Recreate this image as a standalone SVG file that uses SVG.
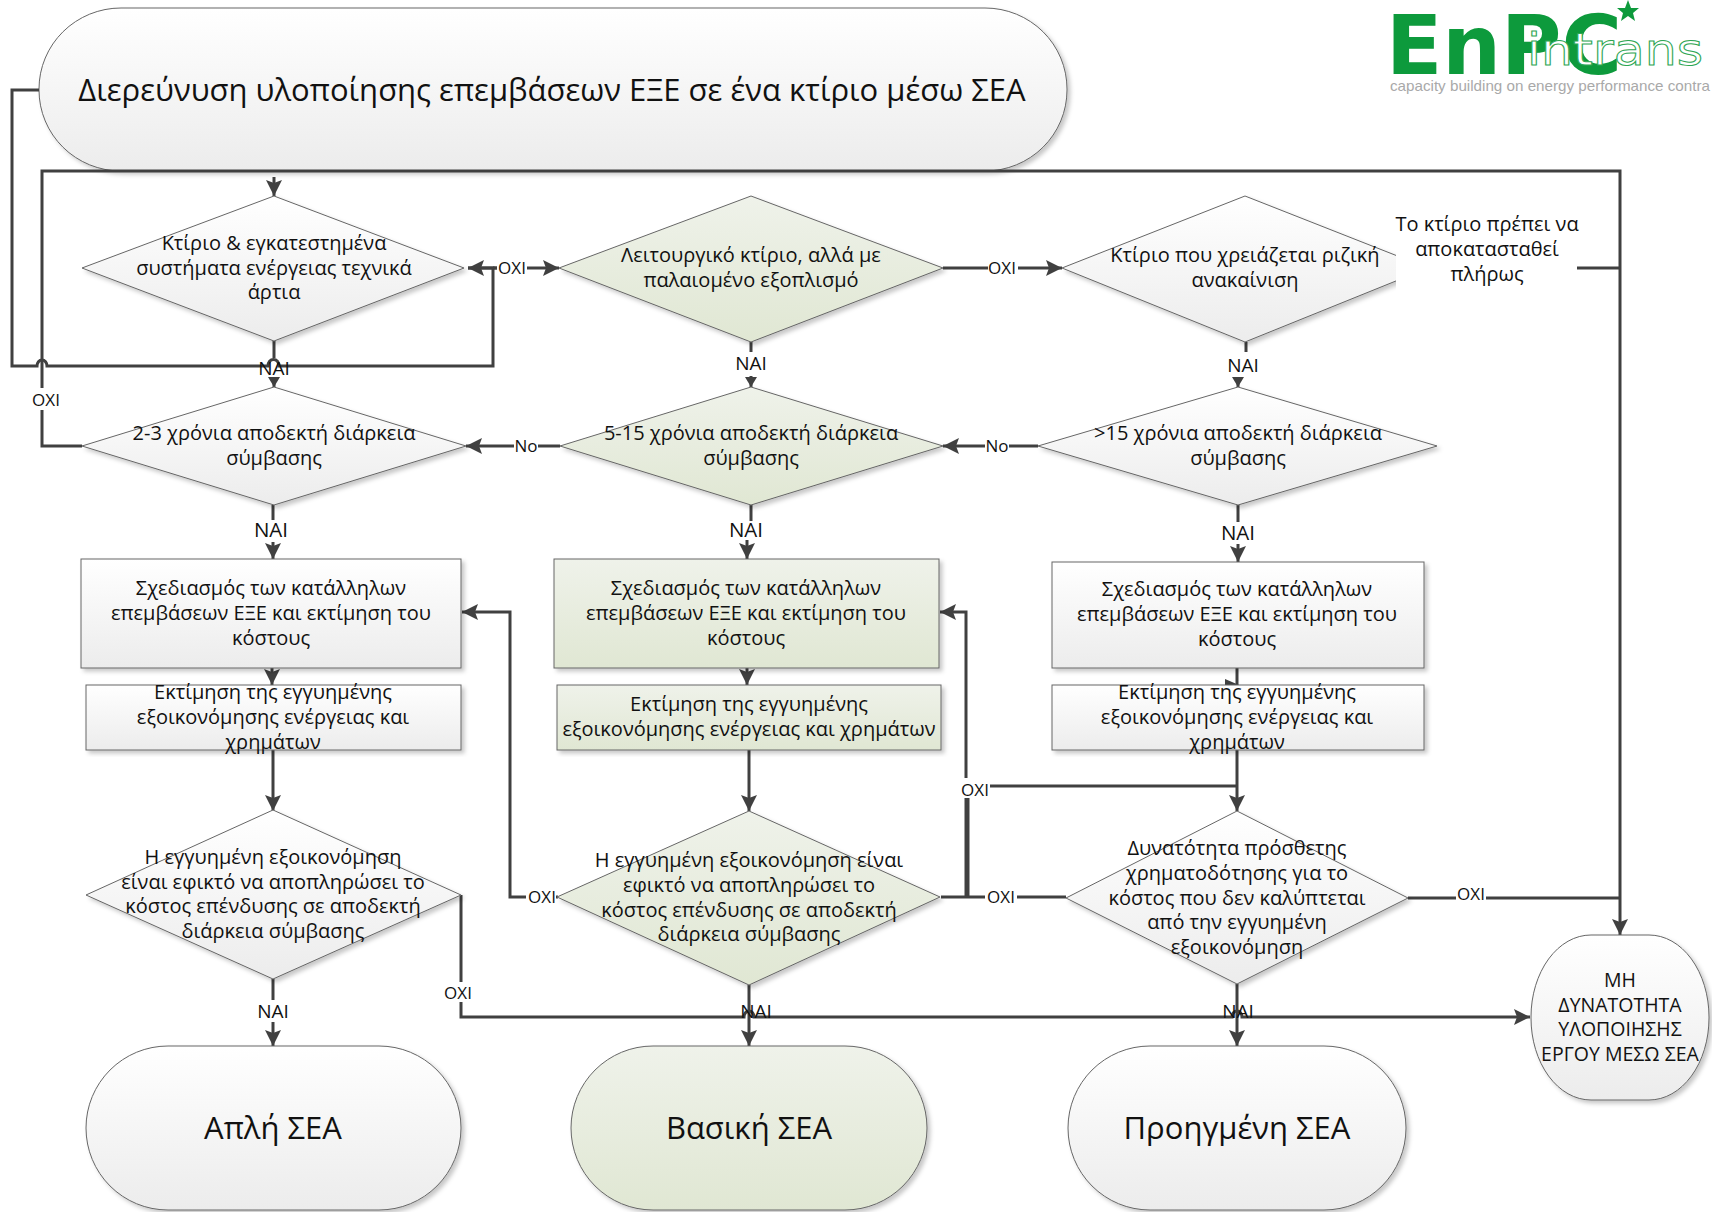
<svg xmlns="http://www.w3.org/2000/svg" width="1712" height="1212" viewBox="0 0 1712 1212">
<style>
text{font-family:"Open Sans","Noto Sans","DejaVu Sans",sans-serif;fill:#111;text-anchor:middle}
.n{font-size:20px}
.l{font-size:17px}
.y{font-size:19px}
.z{font-size:20.5px}
.b{font-size:31px}
.s{stroke:#666;stroke-width:1;fill:url(#g);filter:url(#sh)}
.gr{stroke:#666;stroke-width:1;fill:url(#gg);filter:url(#sh)}
.c{fill:none;stroke:#404040;stroke-width:3}
.a{marker-end:url(#ar)}
.as{marker-end:url(#as)}
.m{fill:#fff;stroke:none}
</style>
<defs>
<linearGradient id="g" x1="0" y1="0" x2="0" y2="1"><stop offset="0" stop-color="#fff"/><stop offset="1" stop-color="#ececec"/></linearGradient>
<linearGradient id="gg" x1="0" y1="0" x2="0" y2="1"><stop offset="0" stop-color="#eff2ea"/><stop offset="1" stop-color="#e0e7d3"/></linearGradient>
<filter id="sh" x="-5%" y="-5%" width="112%" height="115%"><feDropShadow dx="3" dy="3" stdDeviation="2" flood-color="#000" flood-opacity=".22"/></filter>
<marker id="ar" markerUnits="userSpaceOnUse" markerWidth="18" markerHeight="18" refX="16" refY="8" orient="auto"><path d="M0 0L16 8L0 16L3 8Z" fill="#404040"/></marker>
<marker id="as" markerUnits="userSpaceOnUse" markerWidth="12" markerHeight="12" refX="10" refY="6" orient="auto"><path d="M0 0L10 6L0 12Z" fill="#404040"/></marker>
</defs>
<rect width="1712" height="1212" fill="#fff"/>

<g id="logo">
<text x="1386" y="74" textLength="236" lengthAdjust="spacingAndGlyphs" style="font:bold 82px 'DejaVu Sans',sans-serif;fill:#0d9a3c;text-anchor:start">EnPC</text>
<polygon points="1628,0 1631,8 1639,8 1633,13 1635,21 1628,16 1621,21 1623,13 1617,8 1625,8" fill="#0d9a3c"/>
<text x="1527" y="65" textLength="176" lengthAdjust="spacingAndGlyphs" style="font:44px 'DejaVu Sans',sans-serif;fill:#fff;stroke:#2ea653;stroke-width:1;text-anchor:start">intrans</text>
<text x="1390" y="91" textLength="320" lengthAdjust="spacingAndGlyphs" style="font:15px 'Liberation Sans',sans-serif;fill:#a9a9a9;text-anchor:start">capacity building on energy performance contra</text>
</g>

<g id="n-title"><rect class="s" x="39" y="8" width="1028" height="163" rx="82" ry="81"/><text class="b" x="552" y="101">Διερεύνυση υλοποίησης επεμβάσεων ΕΞΕ σε ένα κτίριο μέσω ΣΕΑ</text></g>

<g id="connectors">
<path class="c" d="M39 90H12V366H37a5 6 0 0 1 10 0H268a5 6 0 0 1 11 0H493V268H468" marker-end="url(#ar)"/>
<path class="c" d="M82 446H42V171H1620V935" marker-end="url(#ar)"/>
<path class="c a" d="M274 177V196"/>
<path class="c" d="M511 268H468"/>
<path class="c a" d="M493 268H559"/>
<path class="c a" d="M943 268H1062"/>
<path class="c" d="M1577 268H1620"/>
<path class="c" d="M274 341V358"/>
<path class="c as" d="M274 378V387"/>
<path class="c" d="M751 342V352"/>
<path class="c as" d="M751 376V387"/>
<path class="c" d="M1246 342V352"/>
<path class="c as" d="M1238 377V387"/>
<path class="c a" d="M1038 446H943"/>
<path class="c a" d="M560 446H466"/>
<path class="c a" d="M273 505V559"/>
<path class="c" d="M751 505V521"/>
<path class="c a" d="M747 540V559"/>
<path class="c a" d="M1238 505V562"/>
<path class="c a" d="M272 668V685"/>
<path class="c a" d="M747 668V685"/>
<path class="c" d="M1237 668V685"/>
<path d="M1225 679L1239 685L1225 692Z" fill="#404040"/>
<path class="c a" d="M273 750V811"/>
<path class="c a" d="M749 750V811"/>
<path class="c a" d="M1237 750V811"/>
<path class="c" d="M941 897H1066"/>
<path class="c a" d="M966 897V612H940"/>
<path class="c" d="M968 897V786H1237"/>
<path class="c a" d="M558 897H510V612H462"/>
<path class="c a" d="M461 895V1017H744a5 6 0 0 1 10 0H1232a5 6 0 0 1 10 0H1530"/>
<path class="c a" d="M273 979V1046"/>
<path class="c a" d="M749 985V1046"/>
<path class="c a" d="M1237 984V1046"/>
<path class="c" d="M1408 898H1620"/>
<g id="edge-labels">
<rect class="m" x="28" y="388" width="36" height="22"/><text class="l" x="46" y="406">ΟΧΙ</text>
<rect class="m" x="497" y="258" width="30" height="20"/><text class="l" x="512" y="274">ΟΧΙ</text>
<rect class="m" x="988" y="258" width="30" height="20"/><text class="l" x="1002" y="274">ΟΧΙ</text>
<text class="y" x="274" y="375">ΝΑΙ</text>
<text class="y" x="751" y="370">ΝΑΙ</text>
<text class="y" x="1243" y="372">ΝΑΙ</text>
<rect class="m" x="514" y="438" width="24" height="18"/><text class="l" x="526" y="452">No</text>
<rect class="m" x="985" y="438" width="24" height="18"/><text class="l" x="997" y="452">No</text>
<rect class="m" x="254" y="520" width="36" height="22"/><text class="z" x="271" y="537">ΝΑΙ</text>
<text class="z" x="746" y="537">ΝΑΙ</text>
<rect class="m" x="1220" y="522" width="36" height="22"/><text class="z" x="1238" y="540">ΝΑΙ</text>
<rect class="m" x="960" y="778" width="30" height="20"/><text class="l" x="975" y="796">ΟΧΙ</text>
<rect class="m" x="526" y="888" width="30" height="18"/><text class="l" x="542" y="903">ΟΧΙ</text>
<rect class="m" x="985" y="888" width="32" height="18"/><text class="l" x="1001" y="903">ΟΧΙ</text>
<rect class="m" x="1456" y="886" width="30" height="18"/><text class="l" x="1471" y="900">ΟΧΙ</text>
<rect class="m" x="442" y="982" width="32" height="20"/><text class="l" x="458" y="999">ΟΧΙ</text>
<rect class="m" x="255" y="1000" width="36" height="22"/><text class="y" x="273" y="1018">ΝΑΙ</text>
<text class="y" x="756" y="1018">ΝΑΙ</text>
<text class="y" x="1238" y="1018">ΝΑΙ</text>
</g>
</g>

<g id="n-d1"><polygon class="s" points="274,196 464,268 274,341 82,268"/><text class="n"><tspan x="274" y="250">Κτίριο &amp; εγκατεστημένα</tspan><tspan x="274" y="275">συστήματα ενέργειας τεχνικά</tspan><tspan x="274" y="299">άρτια</tspan></text></g>
<g id="n-d2"><polygon class="gr" points="751,196 943,268 751,342 559,268"/><text class="n"><tspan x="751" y="262">Λειτουργικό κτίριο, αλλά με</tspan><tspan x="751" y="287">παλαιομένο εξοπλισμό</tspan></text></g>
<g id="n-d3"><polygon class="s" points="1245,196 1428,268 1245,342 1062,268"/><rect x="1396" y="200" width="181" height="110" fill="#fff"/><text class="n"><tspan x="1245" y="262">Κτίριο που χρειάζεται ριζική</tspan><tspan x="1245" y="287">ανακαίνιση</tspan></text></g>
<g id="n-note"><text class="n"><tspan x="1487" y="231">Το κτίριο πρέπει να</tspan><tspan x="1487" y="256">αποκατασταθεί</tspan><tspan x="1487" y="281">πλήρως</tspan></text></g>

<g id="n-e1"><polygon class="s" points="274,387 466,446 274,505 82,446"/><text class="n"><tspan x="274" y="440">2-3 χρόνια αποδεκτή διάρκεια</tspan><tspan x="274" y="465">σύμβασης</tspan></text></g>
<g id="n-e2"><polygon class="gr" points="751,387 943,446 751,505 560,446"/><text class="n"><tspan x="751" y="440">5-15 χρόνια αποδεκτή διάρκεια</tspan><tspan x="751" y="465">σύμβασης</tspan></text></g>
<g id="n-e3"><polygon class="s" points="1238,387 1437,446 1238,505 1038,446"/><text class="n"><tspan x="1238" y="440">&gt;15 χρόνια αποδεκτή διάρκεια</tspan><tspan x="1238" y="465">σύμβασης</tspan></text></g>

<g id="n-r1"><rect class="s" x="81" y="559" width="380" height="109"/><text class="n"><tspan x="271" y="595">Σχεδιασμός των κατάλληλων</tspan><tspan x="271" y="620">επεμβάσεων ΕΞΕ και εκτίμηση του</tspan><tspan x="271" y="645">κόστους</tspan></text></g>
<g id="n-r2"><rect class="gr" x="554" y="559" width="385" height="109"/><text class="n"><tspan x="746" y="595">Σχεδιασμός των κατάλληλων</tspan><tspan x="746" y="620">επεμβάσεων ΕΞΕ και εκτίμηση του</tspan><tspan x="746" y="645">κόστους</tspan></text></g>
<g id="n-r3"><rect class="s" x="1052" y="562" width="372" height="106"/><text class="n"><tspan x="1237" y="596">Σχεδιασμός των κατάλληλων</tspan><tspan x="1237" y="621">επεμβάσεων ΕΞΕ και εκτίμηση του</tspan><tspan x="1237" y="646">κόστους</tspan></text></g>
<g id="n-s1"><rect class="s" x="86" y="685" width="375" height="65"/><text class="n"><tspan x="273" y="699">Εκτίμηση της εγγυημένης</tspan><tspan x="273" y="724">εξοικονόμησης ενέργειας και</tspan><tspan x="273" y="749">χρημάτων</tspan></text></g>
<g id="n-s2"><rect class="gr" x="557" y="685" width="384" height="65"/><text class="n"><tspan x="749" y="711">Εκτίμηση της εγγυημένης</tspan><tspan x="749" y="736">εξοικονόμησης ενέργειας και χρημάτων</tspan></text></g>
<g id="n-s3"><rect class="s" x="1052" y="685" width="372" height="65"/><text class="n"><tspan x="1237" y="699">Εκτίμηση της εγγυημένης</tspan><tspan x="1237" y="724">εξοικονόμησης ενέργειας και</tspan><tspan x="1237" y="749">χρημάτων</tspan></text></g>

<g id="n-q1"><polygon class="s" points="273,810 461,895 273,979 86,895"/><text class="n"><tspan x="273" y="864">Η εγγυημένη εξοικονόμηση</tspan><tspan x="273" y="889">είναι εφικτό να αποπληρώσει το</tspan><tspan x="273" y="913">κόστος επένδυσης σε αποδεκτή</tspan><tspan x="273" y="938">διάρκεια σύμβασης</tspan></text></g>
<g id="n-q2"><polygon class="gr" points="749,811 940,897 749,985 557,897"/><text class="n"><tspan x="749" y="867">Η εγγυημένη εξοικονόμηση είναι</tspan><tspan x="749" y="892">εφικτό να αποπληρώσει το</tspan><tspan x="749" y="917">κόστος επένδυσης σε αποδεκτή</tspan><tspan x="749" y="941">διάρκεια σύμβασης</tspan></text></g>
<g id="n-q3"><polygon class="s" points="1237,811 1408,898 1237,984 1066,898"/><text class="n"><tspan x="1237" y="855">Δυνατότητα πρόσθετης</tspan><tspan x="1237" y="880">χρηματοδότησης για το</tspan><tspan x="1237" y="905">κόστος που δεν καλύπτεται</tspan><tspan x="1237" y="929">από την εγγυημένη</tspan><tspan x="1237" y="954">εξοικονόμηση</tspan></text></g>

<g id="n-t1"><rect class="s" x="86" y="1046" width="375" height="164" rx="82" ry="82"/><text class="b" x="273" y="1139">Απλή ΣΕΑ</text></g>
<g id="n-t2"><rect class="gr" x="571" y="1046" width="356" height="164" rx="82" ry="82"/><text class="b" x="749" y="1139">Βασική ΣΕΑ</text></g>
<g id="n-t3"><rect class="s" x="1068" y="1046" width="338" height="164" rx="82" ry="82"/><text class="b" x="1237" y="1139">Προηγμένη ΣΕΑ</text></g>
<g id="n-t4"><rect class="s" x="1531" y="935" width="178" height="165" rx="60" ry="82"/><text style="font-size:19.5px"><tspan x="1620" y="987">ΜΗ</tspan><tspan x="1620" y="1012">ΔΥΝΑΤΟΤΗΤΑ</tspan><tspan x="1620" y="1036">ΥΛΟΠΟΙΗΣΗΣ</tspan><tspan x="1620" y="1061">ΕΡΓΟΥ ΜΕΣΩ ΣΕΑ</tspan></text></g>
</svg>
